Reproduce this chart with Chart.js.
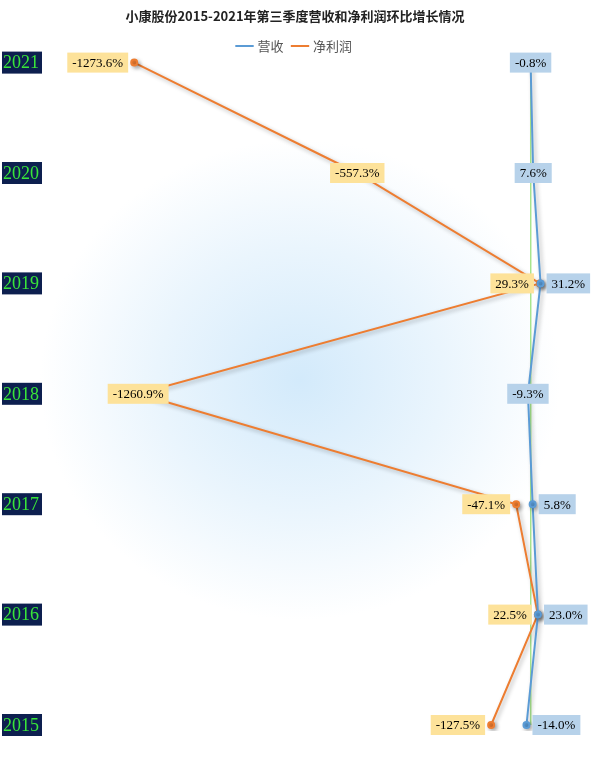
<!DOCTYPE html>
<html lang="zh">
<head>
<meta charset="UTF-8">
<title>小康股份环比增长</title>
<script src="https://cdn.jsdelivr.net/npm/chart.js"></script>
<style>
  html, body { margin: 0; padding: 0; background: #fff; }
  #wrap { width: 600px; height: 763px; position: relative;
    background: radial-gradient(ellipse 260px 240px at 300px 380px, #d3eafb 0%, #eaf5fd 55%, #ffffff 100%); }
</style>
</head>
<body>
<div id="wrap"><canvas id="c" width="600" height="763"></canvas></div>
<script>
const years = ['2015', '2016', '2017', '2018', '2019', '2020', '2021'];
const revenue = [-14.0, 23.0, 5.8, -9.3, 31.2, 7.6, -0.8];
const profit = [-127.5, 22.5, -47.1, -1260.9, 29.3, -557.3, -1273.6];

// where each value box sits relative to its point
const revAlign = ['right', 'right', 'right', 'center', 'right', 'center', 'center'];
const profAlign = ['left', 'left', 'left', 'center', 'left', 'center', 'left'];

const yearBoxes = {
  id: 'yearBoxes',
  afterDraw(chart) {
    const ctx = chart.ctx, y = chart.scales.y;
    ctx.save();
    ctx.font = '18px "Liberation Serif", serif';
    ctx.textBaseline = 'middle';
    years.forEach((yr, i) => {
      const py = y.getPixelForValue(i);
      ctx.fillStyle = '#0d1f4f';
      ctx.fillRect(2, py - 11, 40, 22);
      ctx.fillStyle = '#39e639';
      ctx.fillText(yr, 3, py + 1);
    });
    ctx.restore();
  }
};

const zeroLine = {
  id: 'zeroLine',
  beforeDatasetsDraw(chart) {
    const ctx = chart.ctx, x = chart.scales.x, y = chart.scales.y;
    ctx.save();
    ctx.strokeStyle = '#7ed957';
    ctx.lineWidth = 1;
    ctx.beginPath();
    ctx.moveTo(x.getPixelForValue(0), y.getPixelForValue(6));
    ctx.lineTo(x.getPixelForValue(0), y.getPixelForValue(0));
    ctx.stroke();
    ctx.restore();
  }
};

const shadow = {
  id: 'shadow',
  beforeDatasetsDraw(chart) {
    chart.ctx.save();
    chart.ctx.shadowColor = 'rgba(0,0,0,0.3)';
    chart.ctx.shadowBlur = 4;
    chart.ctx.shadowOffsetX = 2;
    chart.ctx.shadowOffsetY = 2;
  },
  afterDatasetsDraw(chart) { chart.ctx.restore(); }
};

const valueBoxes = {
  id: 'valueBoxes',
  afterDatasetsDraw(chart) {
    const ctx = chart.ctx;
    ctx.save();
    ctx.font = '13px "Liberation Serif", serif';
    ctx.textBaseline = 'middle';
    ctx.textAlign = 'center';
    const sets = [[0, revAlign, '#b7d2ea'], [1, profAlign, '#fde29a']];
    sets.forEach(([di, align, bg]) => {
      const meta = chart.getDatasetMeta(di);
      meta.data.forEach((pt, i) => {
        const txt = chart.data.datasets[di].data[i].toFixed(1) + '%';
        const w = ctx.measureText(txt).width + 10, h = 20;
        let cx = pt.x;
        if (align[i] === 'left') cx = pt.x - w / 2 - 6;
        if (align[i] === 'right') cx = pt.x + w / 2 + 6;
        ctx.fillStyle = bg;
        ctx.fillRect(cx - w / 2, pt.y - h / 2, w, h);
        ctx.fillStyle = '#000';
        ctx.fillText(txt, cx, pt.y + 1);
      });
    });
    ctx.restore();
  }
};

new Chart(document.getElementById('c'), {
  type: 'line',
  data: {
    labels: years,
    datasets: [
      { label: '营收', data: revenue, borderColor: '#5b9bd5', backgroundColor: '#5b9bd5',
        borderWidth: 2, pointRadius: 3, tension: 0 },
      { label: '净利润', data: profit, borderColor: '#ed7d31', backgroundColor: '#ed7d31',
        borderWidth: 2, pointRadius: 3, tension: 0 }
    ]
  },
  options: {
    indexAxis: 'y',
    responsive: false,
    animation: false,
    layout: { padding: { left: 0, right: 10, top: 0, bottom: 38 } },
    plugins: {
      title: { display: true, text: '小康股份2015-2021年第三季度营收和净利润环比增长情况',
        color: '#222', font: { family: '"Noto Sans CJK SC"', size: 13, weight: 'bold' }, padding: { top: 8, bottom: 6 } },
      legend: { labels: { usePointStyle: true, pointStyle: 'line', boxWidth: 22, color: '#555',
        font: { family: '"Noto Sans CJK SC"', size: 13 }, padding: 10 } },
      tooltip: { enabled: false }
    },
    scales: {
      x: { type: 'linear', min: -1560, max: 190, display: false },
      y: { type: 'category', reverse: true, offset: false, grid: { display: false },
        border: { display: false }, ticks: { color: 'transparent', padding: 0, font: { size: 18 } },
        afterFit(s) { s.width = 45; } }
    }
  },
  plugins: [zeroLine, shadow, valueBoxes, yearBoxes]
});
</script>
</body>
</html>
